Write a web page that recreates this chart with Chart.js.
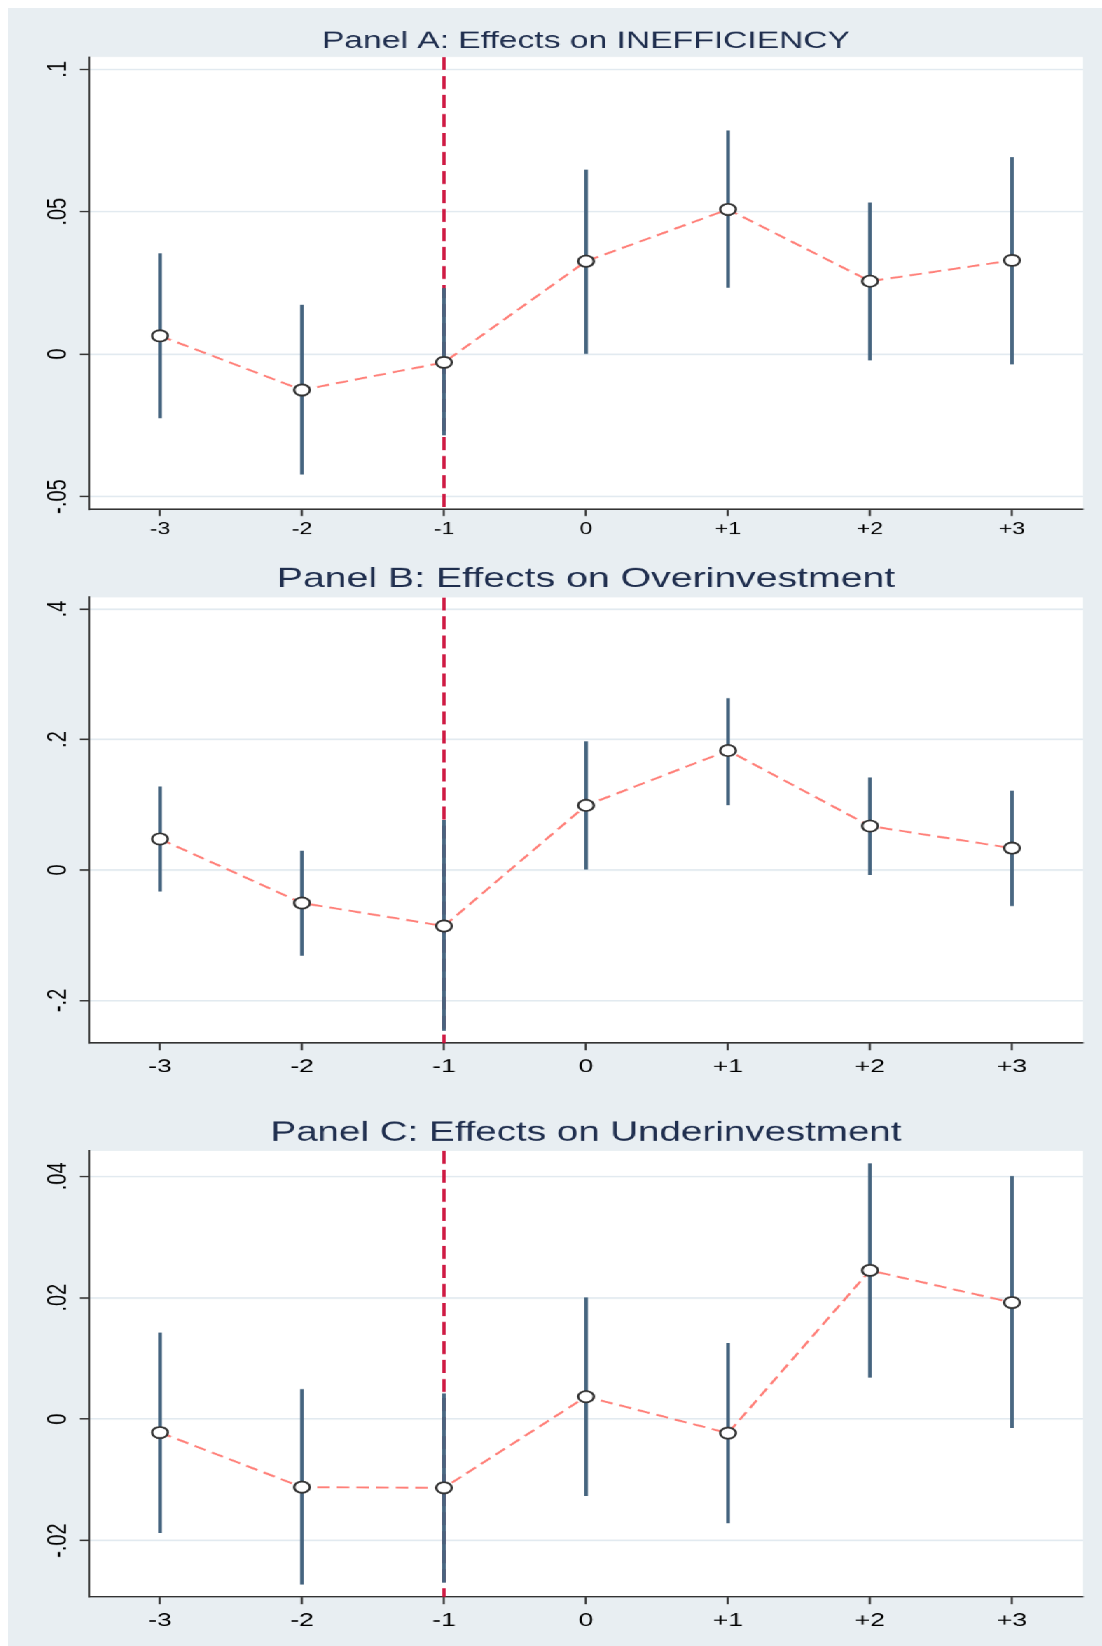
<!DOCTYPE html>
<html>
<head>
<meta charset="utf-8">
<style>
  html, body { margin: 0; padding: 0; background: #fff; }
  /* the original figure is stretched horizontally, so the panels are drawn narrow and scaled */
  #fig { position: absolute; left: 8px; top: 8px; width: 781px; height: 1638px;
         background: #e8eef2; transform: scaleX(1.4008); transform-origin: 0 0; }
  #fig canvas { position: absolute; left: 0; }
</style>
</head>
<body>
<div id="fig">
  <canvas id="panelA" width="781" height="544" style="top:0px"></canvas>
  <canvas id="panelB" width="781" height="548" style="top:544px"></canvas>
  <canvas id="panelC" width="781" height="546" style="top:1092px"></canvas>
</div>

<script src="https://cdn.jsdelivr.net/npm/chart.js@4.4.1/dist/chart.umd.min.js"></script>
<script>
// event time
const periods = [-3, -2, -1, 0, 1, 2, 3];
const periodLabels = ['-3', '-2', '-1', '0', '+1', '+2', '+3'];
const eventPeriod = -1;

// Panel A: INEFFICIENCY
const coefA   = [0.0064, -0.0126, -0.0029, 0.0326, 0.0508, 0.0256, 0.0329];
const ciLowA  = [-0.0224, -0.0422, -0.0284, 0.0002, 0.0234, -0.0021, -0.0035];
const ciHighA = [0.0353, 0.0172, 0.0231, 0.0646, 0.0784, 0.0531, 0.0690];
const yTicksA = [-0.05, 0, 0.05, 0.1];
const yTickLabelsA = ['-.05', '0', '.05', '.1'];

// Panel B: Overinvestment
const coefB   = [0.0476, -0.0506, -0.0859, 0.0990, 0.1831, 0.0674, 0.0335];
const ciLowB  = [-0.0327, -0.1309, -0.2460, 0.0012, 0.1000, -0.0072, -0.0548];
const ciHighB = [0.1274, 0.0292, 0.0763, 0.1967, 0.2629, 0.1413, 0.1212];
const yTicksB = [-0.2, 0, 0.2, 0.4];
const yTickLabelsB = ['-.2', '0', '.2', '.4'];

// Panel C: Underinvestment
const coefC   = [-0.0022, -0.0112, -0.0113, 0.0037, -0.0023, 0.0245, 0.0192];
const ciLowC  = [-0.0187, -0.0272, -0.0269, -0.0126, -0.0171, 0.0069, -0.0014];
const ciHighC = [0.0142, 0.0049, 0.0042, 0.0200, 0.0125, 0.0421, 0.0400];
const yTicksC = [-0.02, 0, 0.02, 0.04];
const yTickLabelsC = ['-.02', '0', '.02', '.04'];

const SX = 1.4008;
const Y_FONT = 20;
Chart.defaults.font.family = '"Liberation Sans", Arial, Helvetica, sans-serif';

const plotBg = {
  id: 'plotBg',
  beforeDraw(chart) {
    const { ctx, chartArea: a } = chart;
    ctx.save();
    ctx.fillStyle = '#ffffff';
    ctx.fillRect(a.left, a.top, a.right - a.left, a.bottom - a.top);
    ctx.restore();
  }
};

// centre the rotated y labels at the same distance from the axis
function yLabelPad(labels) {
  const c = document.createElement('canvas').getContext('2d');
  c.font = Y_FONT + 'px "Liberation Sans", Arial, sans-serif';
  const w = Math.max(...labels.map(l => c.measureText(l).width));
  return 15.5 - w / 2;
}

function makePanel(id, p) {
  return new Chart(document.getElementById(id), {
    type: 'line',
    data: {
      datasets: [
        {
          type: 'line',
          data: periods.map((x, i) => ({ x: x, y: p.coef[i] })),
          borderColor: '#ff7f78',
          borderWidth: 1.9,
          borderDash: [9, 5],
          tension: 0,
          pointRadius: 5.6,
          pointBorderWidth: 1.8,
          pointBackgroundColor: '#ffffff',
          pointBorderColor: '#333333'
        },
        {
          type: 'bar',
          data: periods.map((x, i) => ({ x: x, y: [p.lo[i], p.hi[i]] })),
          backgroundColor: '#45647f',
          borderWidth: 0,
          barThickness: 2
        },
        {
          type: 'line',
          data: [{ x: eventPeriod, y: p.yMax }, { x: eventPeriod, y: p.yMin }],
          borderColor: '#cc0a36',
          borderWidth: 2.4,
          borderDash: [13, 6],
          pointRadius: 0
        }
      ]
    },
    options: {
      responsive: false,
      animation: false,
      devicePixelRatio: SX,
      layout: { padding: { left: 0, right: 13.6, top: 0, bottom: 0 } },
      plugins: {
        legend: { display: false },
        tooltip: { enabled: false },
        title: {
          display: true,
          text: p.title,
          fullSize: false,
          color: '#1f2e4e',
          font: { size: p.tSize, weight: 'normal', lineHeight: 1 },
          padding: { top: p.tTop, bottom: p.tBot }
        }
      },
      scales: {
        x: {
          type: 'linear',
          min: -3.5,
          max: 3.5,
          offset: false,
          afterBuildTicks: s => { s.ticks = periods.map(v => ({ value: v })); },
          afterFit: s => { s.height = p.xH; },
          ticks: {
            callback: v => periodLabels[periods.indexOf(v)],
            font: { size: p.xFont, lineHeight: 1.2 },
            color: '#000',
            padding: p.xPad,
            minRotation: 0,
            maxRotation: 0,
            autoSkip: false
          },
          grid: { offset: false, drawOnChartArea: false, tickLength: 7, tickColor: '#333', tickWidth: 1.5 },
          border: { color: '#333', width: 1.5 }
        },
        y: {
          type: 'linear',
          min: p.yMin,
          max: p.yMax,
          afterBuildTicks: s => { s.ticks = p.yTicks.map(v => ({ value: v })); },
          afterFit: s => { s.width = 57.8; },
          ticks: {
            callback: v => p.yLabels[p.yTicks.indexOf(v)],
            font: { size: Y_FONT },
            color: '#000',
            minRotation: 90,
            maxRotation: 90,
            crossAlign: 'center',
            padding: yLabelPad(p.yLabels),
            autoSkip: false
          },
          grid: { color: '#e2eaf0', lineWidth: 1.6, tickLength: 6.5, tickColor: '#333', tickWidth: 1.5 },
          border: { color: '#333', width: 1.5 }
        }
      }
    },
    plugins: [plotBg]
  });
}

makePanel('panelA', {
  title: 'Panel A: Effects on INEFFICIENCY',
  coef: coefA, lo: ciLowA, hi: ciHighA, yTicks: yTicksA, yLabels: yTickLabelsA,
  yMin: -0.0544, yMax: 0.1043,
  tSize: 24, tTop: 21.7, tBot: 3.3, xH: 43, xFont: 16.5, xPad: 4
});
makePanel('panelB', {
  title: 'Panel B: Effects on Overinvestment',
  coef: coefB, lo: ciLowB, hi: ciHighB, yTicks: yTicksB, yLabels: yTickLabelsB,
  yMin: -0.2656, yMax: 0.418,
  tSize: 28, tTop: 13.5, tBot: 3.8, xH: 57.2, xFont: 19, xPad: 5.5
});
makePanel('panelC', {
  title: 'Panel C: Effects on Underinvestment',
  coef: coefC, lo: ciLowC, hi: ciHighC, yTicks: yTicksC, yLabels: yTickLabelsC,
  yMin: -0.0293, yMax: 0.0442,
  tSize: 27.5, tTop: 19.4, tBot: 3.8, xH: 49.5, xFont: 19, xPad: 5.2
});
</script>
</body>
</html>
